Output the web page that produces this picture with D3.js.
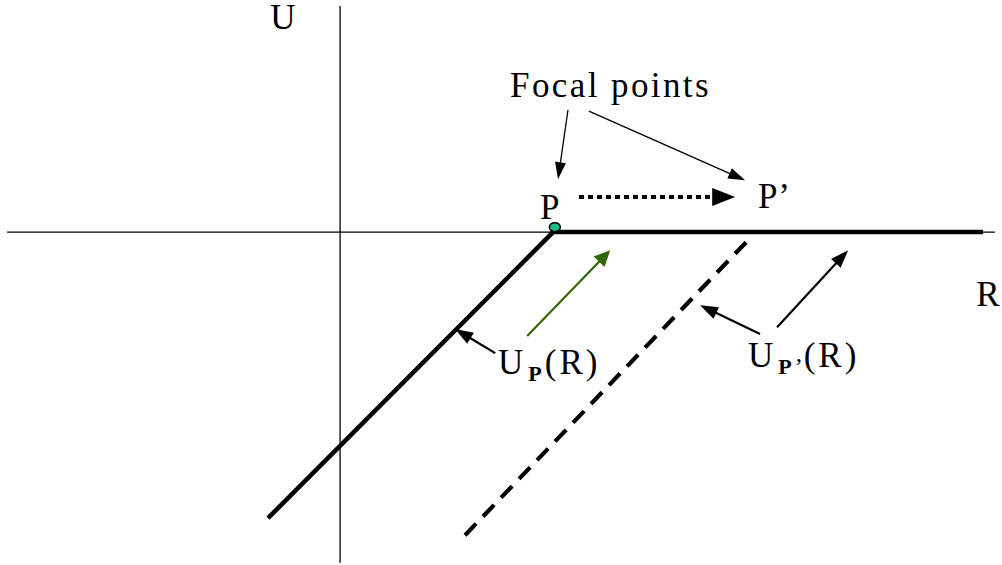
<!DOCTYPE html>
<html>
 <head>
  <title>Focal points</title>
  <script src="https://d3js.org/d3.v7.min.js"></script>
 </head>
 <body style="margin:0;background:#fff">
 <svg width="1002" height="565"></svg>
 <script>
// diagram values, in axis units (R to the right, U up)
var axisR = [[-9.38, 0], [18.45, 0]];
var axisU = [[0, 6.37], [0, -9.32]];
var curveP = [[-2.03, -8.06], [6, 0], [18.11, 0]];
var curvePshift = [[3.52, -8.54], [11.55, -0.17]];
var focalDot = [6.05, 0.14];
var shiftArrow = [[6.73, 0.99], [11.13, 0.99]];
var focalArrows = [[[6.42, 3.44], [6.14, 1.49]], [[7.01, 3.41], [11.41, 1.46]]];
var greenArrow = [[5.27, -2.93], [7.61, -0.51]];
var labelArrows = [
  [[4.37, -3.41], [3.24, -2.73]],
  [[11.83, -2.87], [10.14, -2.06]],
  [[12.31, -2.68], [14.31, -0.51]]
];
var bigLabels = [
  {text: "U", x: -1.97, y: 5.72},
  {text: "R", x: 17.92, y: -2.08},
  {text: "P", x: 5.63, y: 0.37},
  {text: "P\u2019", x: 11.77, y: 0.68},
  {text: "Focal points", x: 4.79, y: 3.80}
];
var subLabels = [
  {main: "U", sub: "P", tail: "", rest: "(R)", x: 4.45, y: -4.0},
  {main: "U", sub: "P", tail: "\u2019", rest: "(R)", x: 11.49, y: -3.80}
];

var svg = d3.select("svg"),
    width = +svg.attr("width"),
    height = +svg.attr("height");

var x = d3.scaleLinear().domain([-9.58, 18.59]).range([0, 1000]);
var y = d3.scaleLinear().domain([6.54, -9.38]).range([0, 565]);

var line = d3.line().x(function(d){ return x(d[0]); }).y(function(d){ return y(d[1]); });

// axes
svg.append("path").attr("d", line(axisR)).attr("stroke", "#000").attr("stroke-width", 1.3).attr("fill", "none");
svg.append("path").attr("d", line(axisU)).attr("stroke", "#000").attr("stroke-width", 1.3).attr("fill", "none");

// U_P(R) and shifted copy
svg.append("path").attr("d", line(curveP)).attr("stroke", "#000").attr("stroke-width", 4.5)
  .attr("fill", "none").attr("stroke-linejoin", "miter");
svg.append("path").attr("d", line(curvePshift)).attr("stroke", "#000").attr("stroke-width", 4.2)
  .attr("fill", "none").attr("stroke-dasharray", "16,10");

// arrow: line plus a filled head at the end
function arrow(seg, color, w, headLen, headW, dash) {
  var x0 = x(seg[0][0]), y0 = y(seg[0][1]), x1 = x(seg[1][0]), y1 = y(seg[1][1]);
  var a = Math.atan2(y1 - y0, x1 - x0);
  var bx = x1 - headLen * Math.cos(a), by = y1 - headLen * Math.sin(a);
  var l = svg.append("line").attr("x1", x0).attr("y1", y0)
    .attr("x2", bx + Math.cos(a)).attr("y2", by + Math.sin(a))
    .attr("stroke", color).attr("stroke-width", w);
  if (dash) l.attr("stroke-dasharray", dash);
  var px = -Math.sin(a) * headW / 2, py = Math.cos(a) * headW / 2;
  svg.append("polygon")
    .attr("points", [[x1, y1], [bx + px, by + py], [bx - px, by - py]].map(function(p){ return p.join(","); }).join(" "))
    .attr("fill", color);
}

arrow(shiftArrow, "#000", 4, 23, 18, "5,4");
focalArrows.forEach(function(s){ arrow(s, "#000", 1.3, 17, 11); });
arrow(greenArrow, "#336600", 2.2, 16, 15);
labelArrows.forEach(function(s){ arrow(s, "#000", 2.2, 18, 13); });

// focal point P
svg.append("ellipse").attr("cx", x(focalDot[0])).attr("cy", y(focalDot[1]))
  .attr("rx", 5.5).attr("ry", 4.5).attr("fill", "#1cbf8c").attr("stroke", "#000").attr("stroke-width", 1.5);

// labels
var font = "'Liberation Serif', 'Times New Roman', serif";
svg.selectAll(".big").data(bigLabels).enter().append("text")
  .attr("class", "big")
  .attr("x", function(d){ return x(d.x); })
  .attr("y", function(d){ return y(d.y); })
  .style("font-family", font).style("font-size", "35px")
  .style("letter-spacing", function(d){ return d.text.length > 2 ? "2.4px" : (d.text.length == 2 ? "1px" : "0px"); })
  .text(function(d){ return d.text; });

subLabels.forEach(function(d){
  var t = svg.append("text").attr("x", x(d.x)).attr("y", y(d.y))
    .style("font-family", font).style("font-size", "35px").style("letter-spacing", "3px");
  t.append("tspan").text(d.main).style("letter-spacing", "5px");
  t.append("tspan").attr("dy", 7).style("font-size", "22px").style("font-weight", "bold")
    .style("letter-spacing", "3px").text(d.sub);
  if (d.tail) t.append("tspan").style("font-size", "24px").style("letter-spacing", "1px").text(d.tail);
  t.append("tspan").attr("dy", -7).text(d.rest);
});
 </script>
</body>
</html>
